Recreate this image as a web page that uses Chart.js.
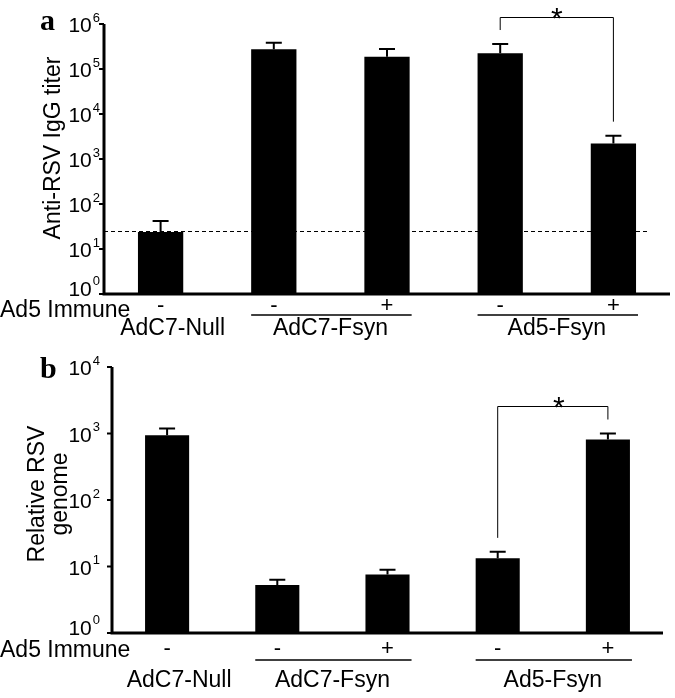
<!DOCTYPE html>
<html>
<head>
<meta charset="utf-8">
<script src="https://cdn.jsdelivr.net/npm/chart.js@4.4.1/dist/chart.umd.min.js"></script>
<style>
  body { margin: 0; background: #fff; }
  #wrap { position: relative; width: 675px; height: 698px; }
  .panel { position: absolute; left: 0; width: 675px; }
</style>
</head>
<body>
<div id="wrap">
  <div class="panel" style="top:0;height:345px"><canvas id="chartA"></canvas></div>
  <div class="panel" style="top:345px;height:353px"><canvas id="chartB"></canvas></div>
</div>
<script>
// categories (Ad5 immune status per bar) and groups
const signs = ["-", "-", "+", "-", "+"];
const groupNames = ["AdC7-Null", "AdC7-Fsyn", "Ad5-Fsyn"];
const groupFirst = [0, 1, 3];
const groupLast = [0, 2, 4];

// panel a: anti-RSV IgG titer
const titerMean = [24, 274000, 188000, 223000, 2200];
const titerErr = [42, 385000, 278000, 359000, 3300];
const titerCutoff = 25;
const titerExp = [0, 1, 2, 3, 4, 5, 6];
const titerSigPair = [3, 4];
const titerSigTop = 1.4e6;

// panel b: relative RSV genome
const genomeMean = [940, 5.25, 7.6, 13.3, 810];
const genomeErr = [1185, 6.3, 8.9, 16.6, 1000];
const genomeExp = [0, 1, 2, 3, 4];
const genomeSigPair = [3, 4];
const genomeSigTop = 2600;

const SANS = '"Liberation Sans", Arial, Helvetica, sans-serif';
const SERIF = '"Liberation Serif", "Times New Roman", serif';

// draws axes, tick labels, error bars, bracket and the label rows under the axis
const decor = (o) => ({
  id: "decor",
  afterDatasetsDraw(chart) {
    const { ctx, chartArea: a } = chart;
    const y = chart.scales.y;
    const bars = chart.getDatasetMeta(0).data;
    ctx.save();
    ctx.fillStyle = "#000";
    ctx.strokeStyle = "#000";

    // cutoff line
    if (o.cutoff) {
      const cy = Math.round(y.getPixelForValue(o.cutoff)) + 0.5;
      ctx.lineWidth = 1;
      ctx.setLineDash([4, 3]);
      ctx.beginPath();
      ctx.moveTo(a.left, cy);
      ctx.lineTo(a.right - 20, cy);
      ctx.stroke();
      ctx.setLineDash([]);
    }

    // error bars
    ctx.lineWidth = 2;
    bars.forEach((b, i) => {
      const ey = y.getPixelForValue(o.err[i]);
      ctx.beginPath();
      ctx.moveTo(b.x, b.y);
      ctx.lineTo(b.x, ey);
      ctx.moveTo(b.x - 8, ey);
      ctx.lineTo(b.x + 8, ey);
      ctx.stroke();
    });

    // axes
    ctx.lineWidth = 3;
    ctx.beginPath();
    ctx.moveTo(a.left, a.top);
    ctx.lineTo(a.left, a.bottom + 1.5);
    ctx.moveTo(a.left - 1.5, a.bottom);
    ctx.lineTo(a.right, a.bottom);
    ctx.stroke();

    // ticks + labels 10^k
    ctx.lineWidth = 2;
    o.exps.forEach((k) => {
      const ty = y.getPixelForValue(Math.pow(10, k));
      ctx.beginPath();
      ctx.moveTo(a.left - 5, ty);
      ctx.lineTo(a.left, ty);
      ctx.stroke();
      ctx.font = "13px " + SANS;
      const ew = ctx.measureText(String(k)).width;
      const base = Math.min(ty + 8, a.bottom + 1.5);
      ctx.textAlign = "right";
      ctx.textBaseline = "alphabetic";
      ctx.fillText(String(k), o.labelRight, base - 10.5);
      ctx.font = "21px " + SANS;
      ctx.fillText("10", o.labelRight - ew - 1, base);
    });

    // significance bracket
    const [p, q] = o.sigPair;
    const topY = Math.round(y.getPixelForValue(o.sigTop)) + 0.5;
    const x1 = bars[p].x, x2 = bars[q].x;
    ctx.lineWidth = 1;
    ctx.beginPath();
    ctx.moveTo(x1, y.getPixelForValue(o.err[p]) - 14);
    ctx.lineTo(x1, topY);
    ctx.lineTo(x2, topY);
    ctx.lineTo(x2, y.getPixelForValue(o.err[q]) - 14);
    ctx.stroke();
    ctx.font = "30px " + SANS;
    ctx.textAlign = "center";
    ctx.fillText("*", (x1 + x2) / 2 + o.starShift, topY + 10);

    // rows under the axis
    ctx.font = "23px " + SANS;
    ctx.textAlign = "left";
    ctx.fillText("Ad5 Immune", 0, a.bottom + o.immuneDy);
    ctx.font = "22px " + SANS;
    ctx.textAlign = "center";
    bars.forEach((b, i) => ctx.fillText(signs[i], b.x, a.bottom + o.signDy));

    ctx.font = "23px " + SANS;
    groupNames.forEach((g, i) => {
      const bf = bars[groupFirst[i]], bl = bars[groupLast[i]];
      const l = bf.x - bf.width / 2, r = bl.x + bl.width / 2;
      let cx = (l + r) / 2;
      if (groupFirst[i] !== groupLast[i]) {
        ctx.lineWidth = 1.5;
        ctx.beginPath();
        ctx.moveTo(l, a.bottom + o.lineDy);
        ctx.lineTo(r + 2, a.bottom + o.lineDy);
        ctx.stroke();
      } else {
        cx += 12;
      }
      ctx.fillText(g, cx, a.bottom + o.groupDy);
    });

    // axis title
    ctx.font = "23px " + SANS;
    o.title.forEach((t, i) => {
      ctx.save();
      ctx.translate(o.titleX[i], o.titleY);
      ctx.rotate(-Math.PI / 2);
      ctx.textAlign = "center";
      ctx.fillText(t, 0, 0);
      ctx.restore();
    });

    // panel letter
    ctx.font = "bold 30px " + SERIF;
    ctx.textAlign = "left";
    ctx.fillText(o.letter, 40, o.letterY);
    ctx.restore();
  }
});

const makeChart = (id, values, pad, yMax, o) =>
  new Chart(document.getElementById(id), {
    type: "bar",
    data: {
      labels: signs,
      datasets: [{ data: values, backgroundColor: "#000", borderWidth: 0, barPercentage: 0.4, categoryPercentage: 1 }]
    },
    options: {
      responsive: true,
      maintainAspectRatio: false,
      animation: false,
      layout: { padding: pad },
      plugins: { legend: { display: false }, tooltip: { enabled: false } },
      scales: {
        x: { display: false },
        y: { type: "logarithmic", display: false, min: 1, max: yMax }
      }
    },
    plugins: [decor(o)]
  });

makeChart("chartA", titerMean, { left: 104, right: 5, top: 24, bottom: 51 }, 1e6, {
  err: titerErr, cutoff: titerCutoff, exps: titerExp, labelRight: 100,
  sigPair: titerSigPair, sigTop: titerSigTop, starShift: 0,
  immuneDy: 23, signDy: 18, lineDy: 21, groupDy: 41,
  title: ["Anti-RSV IgG titer"], titleX: [60], titleY: 148,
  letter: "a", letterY: 30
});

makeChart("chartB", genomeMean, { left: 112, right: 12, top: 22, bottom: 65 }, 1e4, {
  err: genomeErr, cutoff: null, exps: genomeExp, labelRight: 100,
  sigPair: genomeSigPair, sigTop: genomeSigTop, starShift: 6,
  immuneDy: 24, signDy: 22, lineDy: 27, groupDy: 54,
  title: ["Relative RSV", "genome"], titleX: [44, 67], titleY: 149,
  letter: "b", letterY: 33
});
</script>
</body>
</html>
